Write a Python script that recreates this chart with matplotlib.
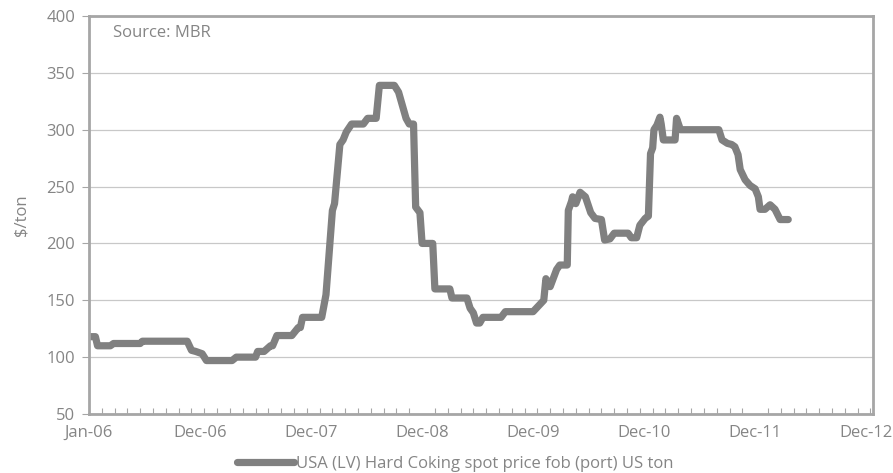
import matplotlib
matplotlib.use("Agg")
import matplotlib.pyplot as plt
import numpy as np

# weekly observations, x = weeks since start of Jan-06, y = $/ton
weeks = [0, 3, 4, 10, 11.5, 24, 25, 46, 48, 50, 53, 55, 67, 69, 78, 79, 82, 85, 86, 88,
         95, 98, 99, 100, 109, 110.5, 111, 114, 115, 117.5, 119, 120.5, 123, 128.5, 130.5,
         134.5, 136, 143, 145, 148.5, 150, 152, 153, 155, 156, 161, 162, 169, 170, 177,
         178.5, 180, 181.5, 183, 184.5, 193, 195, 208, 211, 213, 214, 216, 219, 220.5, 224,
         224.5, 226, 226.5, 228, 230, 232.5, 235, 237, 240, 241.5, 244, 246, 252.5, 254,
         256.5, 258, 260.5, 262, 263, 264, 264.6, 266, 267.4, 268, 269, 274.5, 275.2, 277,
         295, 296.5, 299, 301, 302.5, 304, 305, 307.3, 309.6, 312, 313.5, 314.3, 316.6, 319,
         321.3, 323.7, 327.5]
price = [118, 118, 110, 110, 112, 112, 114, 114, 106, 105, 103, 97, 97, 100, 100, 105, 105,
         110, 110, 119, 119, 126, 126, 135, 135, 150, 155, 229, 235, 287, 291, 298, 305, 305,
         310, 310, 339, 339, 333, 310, 305, 305, 232, 227, 200, 200, 160, 160, 152, 152, 143,
         139, 130, 130, 135, 135, 140, 140, 146, 150, 169, 162, 177, 181, 181, 229, 237, 241,
         235, 245, 241, 227, 222, 221, 203, 204, 209, 209, 205, 205, 216, 222, 224, 279, 284,
         300, 304, 311, 305, 291, 291, 310, 300, 300, 291, 288, 287, 285, 278, 265, 256, 251,
         248, 241, 230, 230, 234, 230, 221, 221]

label_pos = [0, 52, 104, 156, 208, 260, 312, 364]
label_txt = ["Jan-06", "Dec-06", "Dec-07", "Dec-08", "Dec-09", "Dec-10", "Dec-11", "Dec-12"]

txt = "#858585"
fs = 12
plt.rcParams['font.family'] = ['Open Sans', 'DejaVu Sans']

fig = plt.figure(figsize=(8.93, 4.73), dpi=100)
ax = fig.add_axes([89/893, 1-414/473, 784/893, 398/473])

ax.plot(weeks, price, color="#808080", lw=5.2, solid_joinstyle="round",
        solid_capstyle="round", label="USA (LV) Hard Coking spot price fob (port) US ton")

ax.set_xlim(0, 367.2)
ax.set_ylim(50, 400)
ax.set_yticks(np.arange(50, 401, 50))
ax.yaxis.grid(True, color="#c8c8c8", lw=0.9)
ax.set_axisbelow(True)

ax.set_xticks(label_pos)
ax.set_xticklabels(label_txt)
ax.set_xticks(np.arange(0, 367, 6), minor=True)
ax.tick_params(axis="x", which="major", length=0, pad=8, labelsize=fs, colors=txt)
ax.tick_params(axis="x", which="minor", direction="in", length=4, width=0.8, color="#a6a6a6")
ax.tick_params(axis="y", length=5, width=0.8, color="#a6a6a6", labelsize=fs,
               labelcolor=txt, pad=5)

for s in ax.spines.values():
    s.set_color("#a6a6a6")
    s.set_linewidth(2)

ax.set_ylabel("$/ton", color=txt, fontsize=fs, labelpad=12)
ax.text(0.03, 0.978, "Source: MBR", transform=ax.transAxes, ha="left", va="top",
        color=txt, fontsize=fs)

leg = fig.legend(loc="lower center", bbox_to_anchor=(0.51, -0.03), frameon=False,
                 handlelength=3.4, handletextpad=0.15, fontsize=fs)
for t in leg.get_texts():
    t.set_color(txt)

fig.savefig("out.png", dpi=100)
